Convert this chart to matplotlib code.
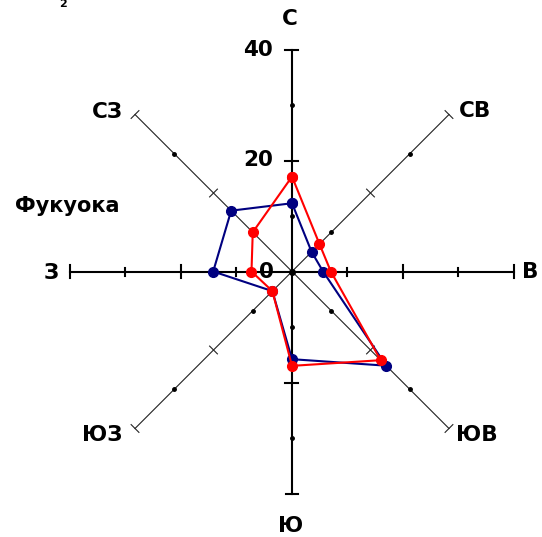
import numpy as np
import matplotlib
matplotlib.use("Agg")
import matplotlib.pyplot as plt

# ---- data ----
directions = ["С", "СВ", "В", "ЮВ", "Ю", "ЮЗ", "З", "СЗ"]
angles_deg = [0, 45, 90, 135, 180, 225, 270, 315]
blue_values = [12.3, 5.0, 5.6, 24.0, 15.8, 5.0, 14.2, 15.5]
red_values = [17.1, 7.0, 7.0, 22.6, 17.0, 5.0, 7.3, 10.0]
r_ticks = [10, 20, 30, 40]
r_major = [20, 40]
r_tick_labels = {0: "0", 20: "20", 40: "40"}
city = "Фукуока"

# ---- layout (pixels) ----
W, H = 542, 537
PX = 5.55            # pixels per unit
CX, CY = 292, 271.5  # centre in pixels from top-left

fig = plt.figure(figsize=(W / 100, H / 100), dpi=100)
ax = fig.add_axes([0, 0, 1, 1])
ax.set_xlim(-CX / PX, (W - CX) / PX)
ax.set_ylim(-(H - CY) / PX, CY / PX)
ax.axis("off")

def p(n):
    return n / PX

FONT = dict(family=["DejaVu Sans"], fontweight="bold", color="black")

# ---- axes ----
rmax = max(r_ticks)
for name, a in zip(directions, angles_deg):
    t = np.deg2rad(a)
    ux, uy = np.sin(t), np.cos(t)
    nx, ny = -uy, ux  # perpendicular
    diag = a % 90 != 0
    lw = 0.8 if diag else 1.5
    col = "#222222" if diag else "black"
    ax.plot([0, rmax * ux], [0, rmax * uy], color=col, lw=lw, zorder=1)
    for r in r_ticks:
        if r in r_major:
            h = p(6.5) if not diag else p(5.5)
            ax.plot([r * ux - h * nx, r * ux + h * nx], [r * uy - h * ny, r * uy + h * ny],
                    color=col, lw=lw, zorder=1)
        else:
            if diag or a in (0, 180):
                ax.plot([r * ux], [r * uy], "o", color="black", ms=2.5, zorder=1)
            else:
                h = p(4)
                ax.plot([r * ux - h * nx, r * ux + h * nx], [r * uy - h * ny, r * uy + h * ny],
                        color=col, lw=lw, zorder=1)

ax.plot([0], [0], "o", color="black", ms=4, zorder=2)

# ---- series ----
def xy(vals):
    t = np.deg2rad(angles_deg + [angles_deg[0]])
    v = np.array(vals + [vals[0]])
    return v * np.sin(t), v * np.cos(t)

bx, by = xy(blue_values)
rx, ry = xy(red_values)
ax.plot(bx, by, "-o", color="#000080", lw=1.5, ms=7, zorder=3)
ax.plot(rx, ry, "-o", color="#ff0000", lw=1.5, ms=7, zorder=4)

# ---- direction labels (pixel positions of label centres) ----
label_px = {"С": (290, 19), "СВ": (475, 111), "В": (530, 272), "ЮВ": (477, 435),
            "Ю": (291, 526), "ЮЗ": (102, 435), "З": (51, 273), "СЗ": (107, 112)}
for name in directions:
    lx, ly = label_px[name]
    ax.text(p(lx - CX), p(CY - ly), name, ha="center", va="center", fontsize=15.5, **FONT, zorder=5)

# ---- radial tick labels on the north axis ----
for r, s in r_tick_labels.items():
    if r == 0:
        ax.text(p(-18), 0, s, ha="right", va="center", fontsize=15.5, **FONT, zorder=6)
    else:
        ax.text(p(-19), r, s, ha="right", va="center", fontsize=15.5, **FONT, zorder=5)

ax.text(p(15 - CX), p(CY - 206), city, ha="left", va="center", fontsize=15, **FONT)
ax.text(p(63 - CX), p(CY - 4), "2", ha="center", va="center", fontsize=8, **FONT)

fig.savefig("out.png", dpi=100)
